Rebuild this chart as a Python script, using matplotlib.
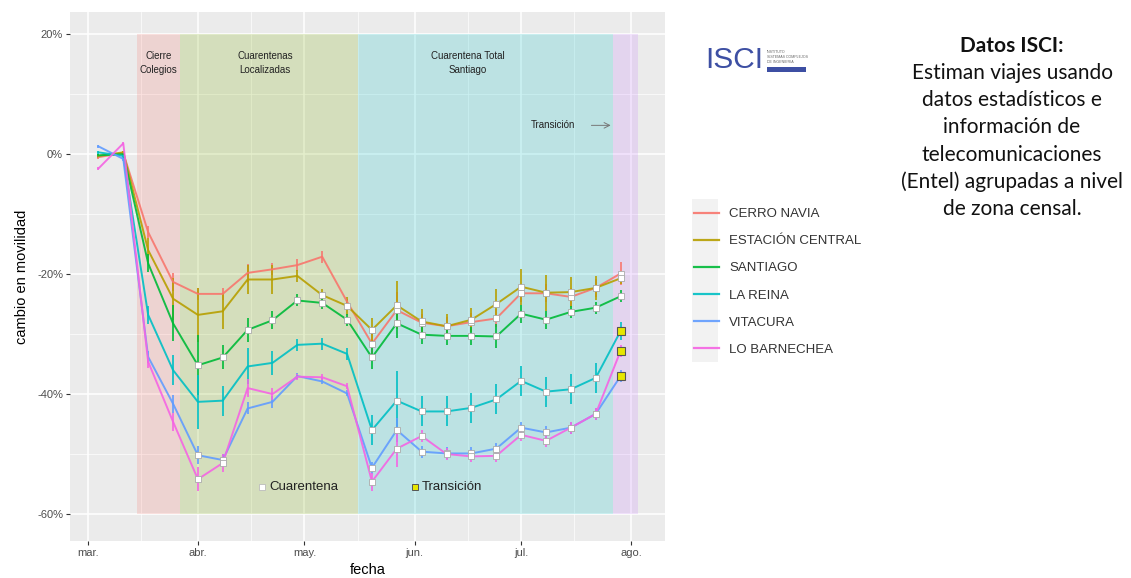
import matplotlib
matplotlib.use("Agg")
import matplotlib.pyplot as plt
import matplotlib.dates as mdates
from matplotlib.patches import Rectangle
import numpy as np
import datetime as dt

# ---------------- data ----------------
start = dt.date(2020, 3, 4)
dates = [start + dt.timedelta(days=7 * i) for i in range(22)]

comunas = ["CERRO NAVIA", "ESTACIÓN CENTRAL", "SANTIAGO", "LA REINA", "VITACURA", "LO BARNECHEA"]
colors = ["#F8766D", "#B79F00", "#00BA38", "#00BFC4", "#619CFF", "#F564E3"]

cerro_navia = [-0.5, 0.2, -13.0, -21.3, -23.3, -23.3, -19.8, -19.2, -18.5, -17.1, -24.6, -31.6,
               -26.0, -28.1, -28.7, -28.0, -27.4, -23.2, -23.2, -23.8, -22.3, -19.9]
estacion_central = [-0.3, 0.3, -16.0, -24.1, -26.8, -26.2, -20.9, -20.9, -20.3, -23.5, -25.3, -29.3,
                    -25.2, -27.9, -28.7, -27.6, -25.0, -22.1, -23.1, -23.0, -22.3, -20.7]
santiago = [-0.2, 0.0, -18.2, -28.2, -35.2, -33.9, -29.3, -27.7, -24.4, -24.8, -27.6, -33.9,
            -28.2, -30.1, -30.3, -30.3, -30.4, -26.6, -27.6, -26.3, -25.6, -23.7]
la_reina = [0.3, -0.3, -26.8, -36.0, -41.3, -41.1, -35.4, -34.8, -31.8, -31.6, -33.3, -46.0,
            -41.1, -42.9, -42.9, -42.3, -40.9, -37.8, -39.6, -39.2, -37.3, -29.5]
vitacura = [1.3, -0.8, -33.8, -41.6, -50.2, -51.0, -42.4, -41.3, -37.0, -37.9, -39.9, -52.3,
            -46.0, -49.6, -49.9, -49.9, -49.1, -45.6, -46.4, -45.6, -43.3, -37.0]
lo_barnechea = [-2.4, 1.8, -34.6, -44.6, -54.2, -51.5, -39.0, -40.0, -37.1, -37.2, -38.7, -54.6,
                -49.1, -47.0, -50.0, -50.4, -50.3, -46.8, -47.8, -45.6, -43.3, -32.8]

err_cn = [0.3, 0.3, 1, 1.5, 1, 1, 1.5, 1, 1, 1, 0.5, 2, 3, 1.5, 1.5, 1.5, 1.5, 1.5, 1.5, 1.5, 1.5, 2]
err_ec = [0.3, 0.3, 2, 3.5, 4.5, 3, 2.5, 2.5, 1, 1, 1.5, 2, 4, 2, 2, 2, 2.5, 3, 3, 2.5, 2, 1]
err_s = [0.3, 0.3, 1.5, 3, 5, 2, 2, 1.5, 1, 1, 1, 2, 2.5, 1.5, 1.5, 1.5, 2, 1.5, 1.5, 1, 1, 1]
err_lr = [0.3, 0.3, 1.5, 2.5, 4.5, 2.5, 3, 2, 1, 1, 1, 2.5, 5, 2.5, 2.5, 2.5, 2.5, 2.5, 2.5, 2.5, 2.5, 1.5]
err_v = [0.3, 0.3, 1, 1.5, 1.5, 1, 1, 1, 0.5, 0.5, 0.5, 1, 2, 1, 1, 1, 1, 1, 1, 1, 1, 1]
err_lb = [0.3, 0.3, 1, 1.5, 2, 1.5, 1.5, 1, 0.5, 0.5, 0.5, 1.5, 3, 1, 1, 1, 1, 1, 1, 1, 1, 1]

# fase per point: n = none, c = cuarentena, t = transición
fase_cn = "n" * 11 + "c" * 11
fase_ec = "n" * 9 + "c" * 13
fase_s = "n" * 4 + "c" * 18
fase_lr = "n" * 11 + "c" * 10 + "t"
fase_v = "n" * 4 + "cc" + "n" * 5 + "c" * 10 + "t"
fase_lb = "n" * 4 + "cc" + "n" * 5 + "c" * 10 + "t"

series = [cerro_navia, estacion_central, santiago, la_reina, vitacura, lo_barnechea]
errors = [err_cn, err_ec, err_s, err_lr, err_v, err_lb]
fases = [fase_cn, fase_ec, fase_s, fase_lr, fase_v, fase_lb]

periodos = [("Cierre\nColegios", dt.date(2020, 3, 15), dt.date(2020, 3, 27), "#F8766D", dt.date(2020, 3, 21)),
            ("Cuarentenas\nLocalizadas", dt.date(2020, 3, 27), dt.date(2020, 5, 16), "#7CAE00", dt.date(2020, 4, 20)),
            ("Cuarentena Total\nSantiago", dt.date(2020, 5, 16), dt.date(2020, 7, 27), "#00BFC4", dt.date(2020, 6, 16)),
            ("", dt.date(2020, 7, 27), dt.date(2020, 8, 3), "#C77CFF", None)]

month_ticks = [dt.date(2020, m, 1) for m in range(3, 9)]
month_labels = ["mar.", "abr.", "may.", "jun.", "jul.", "ago."]
y_ticks = [20, 0, -20, -40, -60]
y_labels = ["20%", "0%", "-20%", "-40%", "-60%"]

# ---------------- figure ----------------
W, H = 1131, 578
fig = plt.figure(figsize=(W / 100, H / 100), dpi=100)
plt.rcParams['font.family'] = ['Liberation Sans', 'DejaVu Sans']

def fx(px):
    return px / W

def fy(py):
    return 1 - py / H

ax = fig.add_axes([fx(70), fy(541), fx(665) - fx(70), fy(12) - fy(541)])
ax.set_facecolor("#EBEBEB")
for s in ax.spines.values():
    s.set_visible(False)

ax.set_xticks(mdates.date2num(month_ticks))
ax.set_xticklabels(month_labels)
ax.set_xticks(mdates.date2num([dt.date(2020, m, 16) for m in range(2, 9)]), minor=True)
ax.set_yticks(y_ticks)
ax.set_yticklabels(y_labels)
ax.set_yticks([10, -10, -30, -50], minor=True)
ax.set_axisbelow(True)
ax.grid(which="major", color="white", linewidth=1.1)
ax.grid(which="minor", color="white", linewidth=0.5)
ax.tick_params(which="major", length=3, width=0.8, color="#333333", labelsize=8, labelcolor="#4D4D4D", pad=2)
ax.tick_params(which="minor", length=0)

# shaded periods
for label, d0, d1, col, dl in periodos:
    ax.fill_between(mdates.date2num([d0, d1]), -60, 20, color=col, alpha=0.2, linewidth=0, zorder=1)
    if label:
        ax.text(mdates.date2num(dl), 15.2, label, ha="center", va="center", fontsize=7,
                color="#222222", linespacing=1.55, zorder=6)

ax.text(mdates.date2num(dt.date(2020, 7, 10)), 4.8, "Transición", ha="center", va="center",
        fontsize=7, color="#222222", zorder=6)
ax.annotate("", xy=(mdates.date2num(dt.date(2020, 7, 27)), 4.8),
            xytext=(mdates.date2num(dt.date(2020, 7, 20)), 4.8),
            arrowprops=dict(arrowstyle="->", color="#777777", lw=0.7), zorder=6)

xd = mdates.date2num(dates)
for name, vals, err, fase, col in zip(comunas, series, errors, fases, colors):
    vals = np.array(vals)
    ax.errorbar(xd, vals, yerr=err, fmt="none", ecolor=col, elinewidth=1.4, capsize=0, zorder=3, alpha=0.85)
    ax.plot(xd, vals, color=col, linewidth=1.4, zorder=4, label=name, alpha=0.9)
    c_idx = [i for i, f in enumerate(fase) if f == "c"]
    t_idx = [i for i, f in enumerate(fase) if f == "t"]
    ax.plot(xd[c_idx], vals[c_idx], linestyle="none", marker="s", markersize=5,
            markerfacecolor="white", markeredgecolor="#AAAAAA", markeredgewidth=0.6, zorder=5)
    ax.plot(xd[t_idx], vals[t_idx], linestyle="none", marker="s", markersize=6,
            markerfacecolor="#E6E600", markeredgecolor="#555555", markeredgewidth=0.8, zorder=5)

# marker legend inside panel
ax.plot(mdates.date2num(dt.date(2020, 4, 19)), -55.5, linestyle="none", marker="s", markersize=5,
        markerfacecolor="white", markeredgecolor="#BBBBBB", markeredgewidth=0.6, zorder=6)
ax.text(mdates.date2num(dt.date(2020, 4, 21)), -55.5, "Cuarentena", ha="left", va="center",
        fontsize=9.5, color="#222222", zorder=6)
ax.plot(mdates.date2num(dt.date(2020, 6, 1)), -55.5, linestyle="none", marker="s", markersize=5,
        markerfacecolor="#E6E600", markeredgecolor="#555555", markeredgewidth=0.7, zorder=6)
ax.text(mdates.date2num(dt.date(2020, 6, 3)), -55.5, "Transición", ha="left", va="center",
        fontsize=9.5, color="#222222", zorder=6)

# limits after ticks (ticks outside would expand view)
ax.set_xlim(mdates.date2num(dt.date(2020, 2, 25)), mdates.date2num(dt.date(2020, 8, 10)) + 0.5)
ax.set_ylim(-64.5, 23.7)

ax.set_xlabel("fecha", fontsize=10.5, color="black", labelpad=4)
ax.set_ylabel("cambio en movilidad", fontsize=10.5, color="black", labelpad=6)

# legend
fig.patches.append(Rectangle((fx(692), fy(362)), fx(718) - fx(692), fy(199) - fy(362),
                             transform=fig.transFigure, facecolor="#F2F2F2", edgecolor="none", zorder=-1))
leg = ax.legend(loc="upper left", bbox_to_anchor=(fx(690), fy(204)), bbox_transform=fig.transFigure,
                frameon=False, fontsize=9.5, handlelength=1.9, handletextpad=0.75,
                labelspacing=1.13, borderaxespad=0, borderpad=0.3)
for t in leg.get_texts():
    t.set_color("#333333")
for h in leg.get_lines():
    h.set_linewidth(1.6)

# ISCI logo
fig.text(fx(705), fy(60), "ISCI", fontsize=21.5, color="#3D4FA3", ha="left", va="center",
         family=["Liberation Sans", "DejaVu Sans"])
fig.text(fx(767), fy(57), "INSTITUTO\nSISTEMAS COMPLEJOS\nDE INGENIERÍA", fontsize=2.6, color="#666666",
         ha="left", va="center", linespacing=1.2)
fig.patches.append(Rectangle((fx(767), fy(72)), fx(806) - fx(767), fy(67) - fy(72),
                             transform=fig.transFigure, facecolor="#3D4FA3", edgecolor="none"))

# right text block
fig.text(fx(1012), fy(46.5), "Datos ISCI:", fontsize=15, fontweight="bold", ha="center", va="center",
         color="#111111", family=["Lato", "DejaVu Sans"])
lines = ["Estiman viajes usando", "datos estadísticos e", "información de",
         "telecomunicaciones", "(Entel) agrupadas a nivel", "de zona censal."]
for i, ln in enumerate(lines):
    fig.text(fx(1012), fy(73 + 27.2 * i), ln, fontsize=15, ha="center", va="center",
             color="#111111", family=["Lato", "DejaVu Sans"])

fig.savefig("out.png", dpi=100)
